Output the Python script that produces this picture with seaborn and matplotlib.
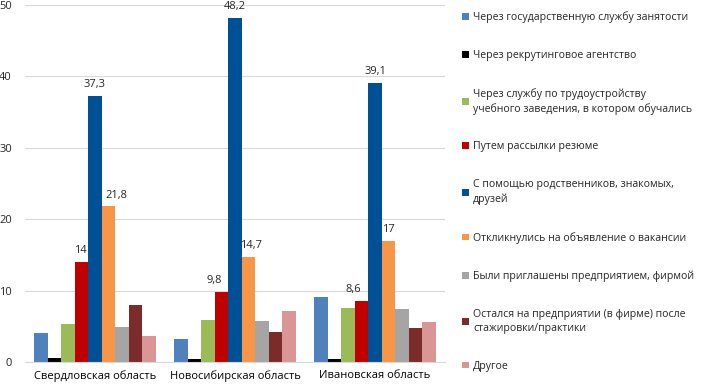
import numpy as np
import pandas as pd
import matplotlib
matplotlib.use("Agg")
import matplotlib.pyplot as plt
import seaborn as sns

regions = ["Свердловская область", "Новосибирская область", "Ивановская область"]
methods = [
    "Через государственную службу занятости",
    "Через рекрутинговое агентство",
    "Через службу по трудоустройству учебного заведения, в котором обучались",
    "Путем рассылки резюме",
    "С помощью родственников, знакомых, друзей",
    "Откликнулись на объявление о вакансии",
    "Были приглашены предприятием, фирмой",
    "Остался на предприятии (в фирме) после стажировки/практики",
    "Другое",
]
legend_labels = [
    "Через государственную службу занятости",
    "Через рекрутинговое агентство",
    "Через службу по трудоустройству\nучебного заведения, в котором обучались",
    "Путем рассылки резюме",
    "С помощью родственников, знакомых,\nдрузей",
    "Откликнулись на объявление о вакансии",
    "Были приглашены предприятием, фирмой",
    "Остался на предприятии (в фирме) после\nстажировки/практики",
    "Другое",
]
# values per method: [Свердловская, Новосибирская, Ивановская]
state_service = [4.1, 3.2, 9.1]
recruiting = [0.6, 0.4, 0.4]
school_service = [5.3, 5.9, 7.5]
resume = [14, 9.8, 8.6]
relatives = [37.3, 48.2, 39.1]
vacancy = [21.8, 14.7, 17]
invited = [4.9, 5.8, 7.4]
internship = [8.0, 4.2, 4.7]
other = [3.6, 7.2, 5.6]
labeled = [3, 4, 5]  # only these series carry data labels
# small horizontal nudges (points) so labels don't sit on the tall bar
label_shift = {3: [-1, -5, -6], 4: [0, 0, 0], 5: [6, 2, 0]}

colors = ["#4F81BD", "#000000", "#9BBB59", "#C00000", "#005096",
          "#F79646", "#A5A5A5", "#7B2C2A", "#DA9694"]

series = [state_service, recruiting, school_service, resume, relatives,
          vacancy, invited, internship, other]
rows = []
for m, vals in zip(methods, series):
    for r, v in zip(regions, vals):
        rows.append({"region": r, "method": m, "value": v})
df = pd.DataFrame(rows)

sns.set_style("white")
plt.rcParams["font.family"] = ["Open Sans", "DejaVu Sans"]
plt.rcParams["font.size"] = 8

fig = plt.figure(figsize=(7.08, 3.87), dpi=100)
ax = fig.add_axes([25 / 708, 1 - 362 / 387, 420 / 708, 357 / 387])

sns.barplot(data=df, x="region", y="value", hue="method", hue_order=methods,
            order=regions, palette=colors, saturation=1, width=0.865,
            linewidth=0, edgecolor="none", ax=ax, legend=True)

for i in labeled:
    cont = ax.containers[i]
    anns = ax.bar_label(cont, labels=[f"{v:g}".replace(".", ",") for v in series[i]],
                        padding=4, fontsize=8, color="#262626")
    for a, dx in zip(anns, label_shift[i]):
        a.xyann = (dx, a.xyann[1])

ax.set_ylim(0, 50)
ax.set_xlim(-0.5, 2.5)
ax.set_yticks(range(0, 51, 10))
ax.yaxis.grid(True, color="#D9D9D9", linewidth=0.8)
ax.set_axisbelow(True)
ax.set_xlabel("")
ax.set_ylabel("")
for s in ["top", "right", "left"]:
    ax.spines[s].set_visible(False)
ax.spines["bottom"].set_color("#D9D9D9")
ax.tick_params(axis="y", length=0, pad=9.5, labelsize=8, colors="#262626")
ax.tick_params(axis="x", length=0, pad=6, labelsize=8, colors="#000000")

handles, _ = ax.get_legend_handles_labels()
leg = ax.legend(handles, legend_labels, loc="upper left",
                bbox_to_anchor=(455 / 708, 0.99), bbox_transform=fig.transFigure,
                frameon=False, fontsize=7.6, handlelength=0.6, handleheight=0.6,
                handletextpad=0.4, labelspacing=2.55, borderaxespad=0.3)
for t in leg.get_texts():
    t.set_linespacing(1.35)

fig.savefig("out.png", dpi=100)
